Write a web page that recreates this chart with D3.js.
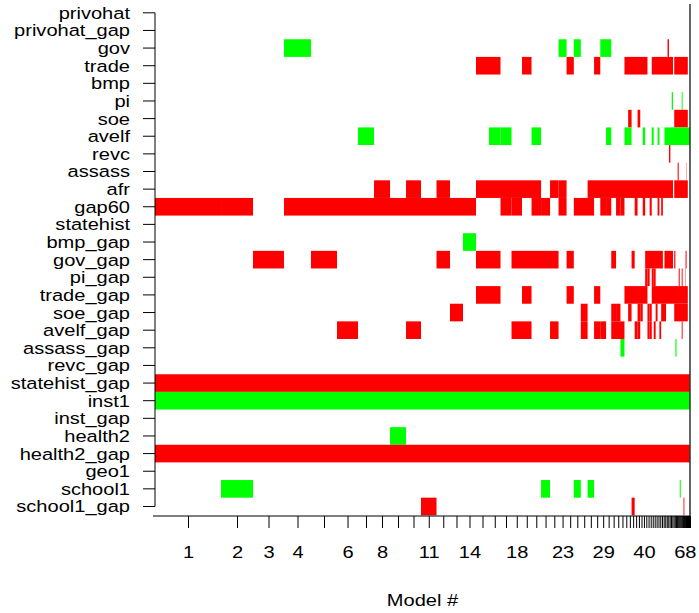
<!DOCTYPE html>
<html>
<head>
<meta charset="utf-8">
<script src="https://cdn.jsdelivr.net/npm/d3@7"></script>
<style>
  body { margin: 0; background: #fff; }
  svg text { font-family: "Liberation Sans", Arial, sans-serif; font-size: 17px; fill: #000; }
</style>
</head>
<body>
<div id="chart"></div>
<script>
// variables, top to bottom
var varNames = ["privohat","privohat_gap","gov","trade","bmp","pi","soe","avelf","revc","assass",
  "afr","gap60","statehist","bmp_gap","gov_gap","pi_gap","trade_gap","soe_gap","avelf_gap",
  "assass_gap","revc_gap","statehist_gap","inst1","inst_gap","health2","health2_gap","geo1",
  "school1","school1_gap"];

// posterior model probabilities (%), model 1 first
var modelProb = [12.34,5.98,5.79,5.05,4.86,3.93,2.99,2.99,2.99,2.80,
  2.90,2.52,2.43,2.43,2.43,2.15,2.06,1.96,1.78,1.78,
  1.68,1.59,1.50,1.35,1.31,1.27,1.21,1.16,1.08,0.97,
  0.90,0.82,0.75,0.69,0.64,0.58,0.54,0.50,0.47,0.45,
  0.43,0.41,0.39,0.37,0.36,0.36,0.34,0.33,0.32,0.30,
  0.29,0.28,0.27,0.26,0.25,0.24,0.23,0.22,0.21,0.21,
  0.20,0.19,0.19,0.18,0.17,0.17,0.16,0.15,0.07,0.07,
  0.06,0.06,0.06,0.06,0.06,0.05,0.05,0.05,0.05,0.05,
  0.05,0.04,0.04,0.04,0.04];

// model numbers that R kept as labels
var tickLabels = ["1","2","3","4","6","8","11","14","18","23","29","40","68"];

// models where the variable enters with a positive sign (green)
var positiveIn = {
  gov: "4 23 25 29 30",
  pi: "56 65",
  avelf: "7 16 17 20 30 34 35 40 44 47 51-85",
  bmp_gap: "14",
  assass_gap: "33 59",
  inst1: "1-85",
  health2: "9",
  school1: "2 21 25 27 63"
};

// models where the variable enters with a negative sign (red)
var negativeIn = {
  gov: "53",
  trade: "15 16 19 24 28 34-41 44-56 58-76",
  soe: "35 38 58-76",
  revc: "54 84",
  assass: "61 73",
  afr: "8 10 12 15-20 22 23 27-56 58-76",
  gap60: "1 2 4-14 17 18 20 21 23 25-27 29 30 32 33 37 40 43 47 49",
  gov_gap: "3 5 12 15 16 18-22 24 31 36 41-49 51-56 58 70-72",
  pi_gap: "41 42 44 45 62 65 69",
  trade_gap: "15 16 19 24 28 34-41 44-76",
  soe_gap: "13 26 31 32 35 38 39 42 43 46 49-51 58-76",
  avelf_gap: "6 10 18 19 22 26 28 29 31-33 37 38 42 43 45 48 65",
  statehist_gap: "1-85",
  health2_gap: "1-85",
  school1_gap: "11 36 67 82"
};

//turns "4-7 9" into runs [[4,7],[9,9]]
function parseRuns(s){
    return s.split(" ").map(function(part){
        var ab = part.split("-");
        return [+ab[0], ab.length > 1 ? +ab[1] : +ab[0]];
    });
}

function drawChart(){
    var width = 699, height = 613;
    var pLeft = 155, pRight = 690, pTop = 4, pBottom = 515.3, axisY = 516;
    var fontSize = "17px", stretch = 1.18;

    var svg = d3.select("#chart").append("svg")
        .attr("width", width)
        .attr("height", height);

    //cumulative probabilities give the column edges
    var cum = [0];
    modelProb.forEach(function(p){ cum.push(cum[cum.length - 1] + p); });

    var x = d3.scaleLinear().domain([0, cum[cum.length - 1]]).range([pLeft, pRight]);
    var y = d3.scaleBand().domain(varNames).range([pTop, pBottom]);

    //one rect per run of neighbouring models, so no seams inside a run
    var cells = [];
    varNames.forEach(function(v){
        if (positiveIn[v]) parseRuns(positiveIn[v]).forEach(function(r){ cells.push({v: v, a: r[0], b: r[1], col: "#00FF00"}); });
        if (negativeIn[v]) parseRuns(negativeIn[v]).forEach(function(r){ cells.push({v: v, a: r[0], b: r[1], col: "#FF0000"}); });
    });

    svg.append("g").selectAll("rect")
        .data(cells)
        .enter()
        .append("rect")
        .attr("x", function(d){ return x(cum[d.a - 1]); })
        .attr("y", function(d){ return y(d.v); })
        .attr("width", function(d){ return x(cum[d.b]) - x(cum[d.a - 1]); })
        .attr("height", y.bandwidth())
        .style("fill", function(d){ return d.col; });

    // right edge line
    svg.append("line")
        .attr("x1", pRight).attr("x2", pRight)
        .attr("y1", pTop).attr("y2", axisY)
        .style("stroke", "#333").style("stroke-width", 1.5);

    // y axis
    var yAxis = d3.axisLeft(y).tickSize(12).tickSizeOuter(0);
    var gy = svg.append("g").attr("transform", "translate(" + pLeft + ",0)").call(yAxis);
    gy.select(".domain").remove();
    gy.append("line")
        .attr("x1", 0).attr("x2", 0)
        .attr("y1", y(varNames[0]) + y.bandwidth() / 2)
        .attr("y2", y(varNames[varNames.length - 1]) + y.bandwidth() / 2)
        .style("stroke", "#000");
    gy.selectAll(".tick line").style("stroke", "#000");
    gy.selectAll(".tick text")
        .attr("x", 0)
        .attr("dy", "0.35em")
        .attr("transform", "translate(-25,0) scale(" + stretch + ",1)")
        .style("font-size", fontSize)
        .style("font-family", "'Liberation Sans', Arial, sans-serif");

    // x axis: one tick per model at its centre
    var centers = modelProb.map(function(p, i){ return (cum[i] + cum[i + 1]) / 2; });
    var xAxis = d3.axisBottom(x)
        .tickValues(centers)
        .tickSize(12)
        .tickSizeOuter(0)
        .tickFormat(function(d, i){
            var lab = String(i + 1);
            return tickLabels.indexOf(lab) >= 0 ? lab : "";
        });
    var gx = svg.append("g").attr("transform", "translate(0," + axisY + ")").call(xAxis);
    gx.select(".domain").remove();
    gx.append("line")
        .attr("x1", 153).attr("x2", pRight)
        .style("stroke", "#000");
    gx.selectAll(".tick line").style("stroke", "#000");
    gx.selectAll(".tick text")
        .attr("y", 0).attr("dy", "0.35em")
        .attr("transform", "translate(0,36) scale(" + stretch + ",1)")
        .style("font-size", fontSize)
        .style("font-family", "'Liberation Sans', Arial, sans-serif");

    svg.append("text")
        .attr("text-anchor", "middle")
        .attr("dy", "0.35em")
        .attr("transform", "translate(" + ((pLeft + pRight) / 2) + ",600) scale(" + stretch + ",1)")
        .text("Model #");
}

drawChart();
</script>
</body>
</html>
